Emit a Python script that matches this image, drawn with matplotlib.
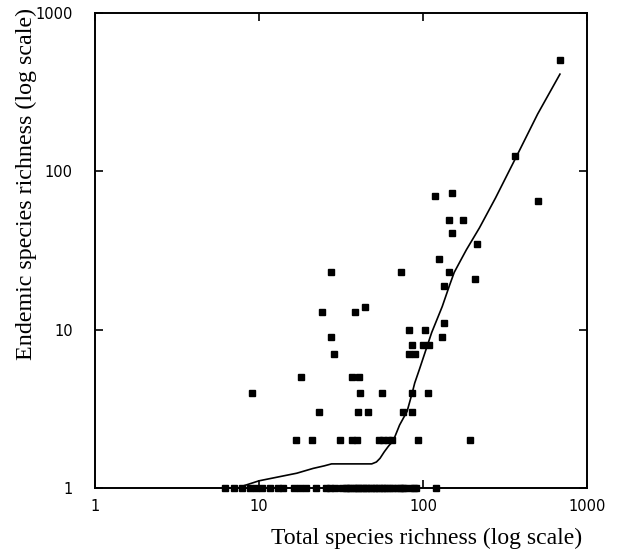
import matplotlib
matplotlib.use("Agg")
import matplotlib.pyplot as plt
from matplotlib.ticker import FixedLocator, NullLocator, FixedFormatter

# Islands with more than one endemic species: (total richness, endemic richness)
total_rich = [680, 364, 503, 119, 150, 145, 176, 150, 214, 125, 145, 208, 135, 135, 130,
              27.4, 73.4, 24.1, 38.3, 44.5, 27.4, 28.7, 82.5, 103, 86, 100, 109, 82, 89,
              18, 37, 41, 9.1, 41.4, 56, 86, 108, 23.3, 40, 46.5, 75, 86,
              16.8, 21, 31, 36.7, 39.5, 54, 57, 61, 65, 93.6, 194]
endemic_rich = [505, 125, 65, 70, 73, 49, 49, 41, 35, 28, 23, 21, 19, 11, 9,
                23, 23, 13, 13, 14, 9, 7, 10, 10, 8, 8, 8, 7, 7,
                5, 5, 5, 4, 4, 4, 4, 4, 3, 3, 3, 3, 3,
                2, 2, 2, 2, 2, 2, 2, 2, 2, 2, 2]

# Islands with a single endemic species (plotted at y = 1)
single_total = [6.2, 7.0, 7.9, 8.8, 9.6, 10.4, 11.7, 13.1, 14.0, 16.4, 17.8, 19.4, 22.3,
                25.7, 27.2, 29, 32, 34, 35, 36, 38, 39, 40, 42, 43, 45, 46, 48, 50, 52,
                54, 56, 58, 60, 63, 66, 69, 72, 75, 77, 83, 88, 91, 120]
single_endemic = [1] * len(single_total)

# Fitted smooth curve
fit_x = [7.5, 8, 10, 13.4, 17, 21.4, 25, 27.7, 35, 48.7, 52, 54.7, 58, 61.4, 66, 72, 80,
         86, 89, 95, 103, 113, 131, 145, 155, 170, 184, 221, 277, 377, 500, 684]
fit_y = [1.0, 1.03, 1.11, 1.18, 1.24, 1.33, 1.38, 1.42, 1.42, 1.42, 1.46, 1.54, 1.69, 1.83,
         2.0, 2.5, 3.05, 4.0, 4.6, 5.6, 7.2, 9.6, 14, 19, 23, 27.5, 32, 44, 68, 128, 230, 411]

tick_vals = [1, 10, 100, 1000]
tick_labels = ["1", "10", "100", "1000"]

fig = plt.figure(figsize=(6.28, 5.52), dpi=100)
ax = fig.add_axes([95/628, 1-488/552, (587-95)/628, (488-13)/552])
ax.set_xscale("log")
ax.set_yscale("log")
ax.set_xlim(1, 1000)
ax.set_ylim(1, 1000)

ax.plot(fit_x, fit_y, color="black", lw=1.2, zorder=2)
ax.plot(total_rich, endemic_rich, ls="none", marker="s", ms=3.8, color="black", zorder=3)
ax.plot(single_total, single_endemic, ls="none", marker="s", ms=3.8, color="black",
        zorder=3, clip_on=False)

for axis in (ax.xaxis, ax.yaxis):
    axis.set_major_locator(FixedLocator(tick_vals))
    axis.set_major_formatter(FixedFormatter(tick_labels))
    axis.set_minor_locator(NullLocator())

ax.tick_params(which="major", direction="in", length=6, width=1.2,
               top=True, right=True, labelsize=10.5)
ax.tick_params(axis="y", pad=16)
ax.tick_params(axis="x", pad=8)
for lab in ax.get_xticklabels() + ax.get_yticklabels():
    lab.set_family("DejaVu Sans")
for sp in ax.spines.values():
    sp.set_linewidth(1.4)

serif = ["Liberation Serif", "DejaVu Serif"]
fig.text(26/628, 1-8/552, "Endemic species richness (log scale)", rotation=90,
         ha="center", va="top", fontsize=17.3, family=serif)
fig.text(582/628, 1-538/552, "Total species richness (log scale)",
         ha="right", va="center", fontsize=17, family=serif)

fig.savefig("out.png", dpi=100)
